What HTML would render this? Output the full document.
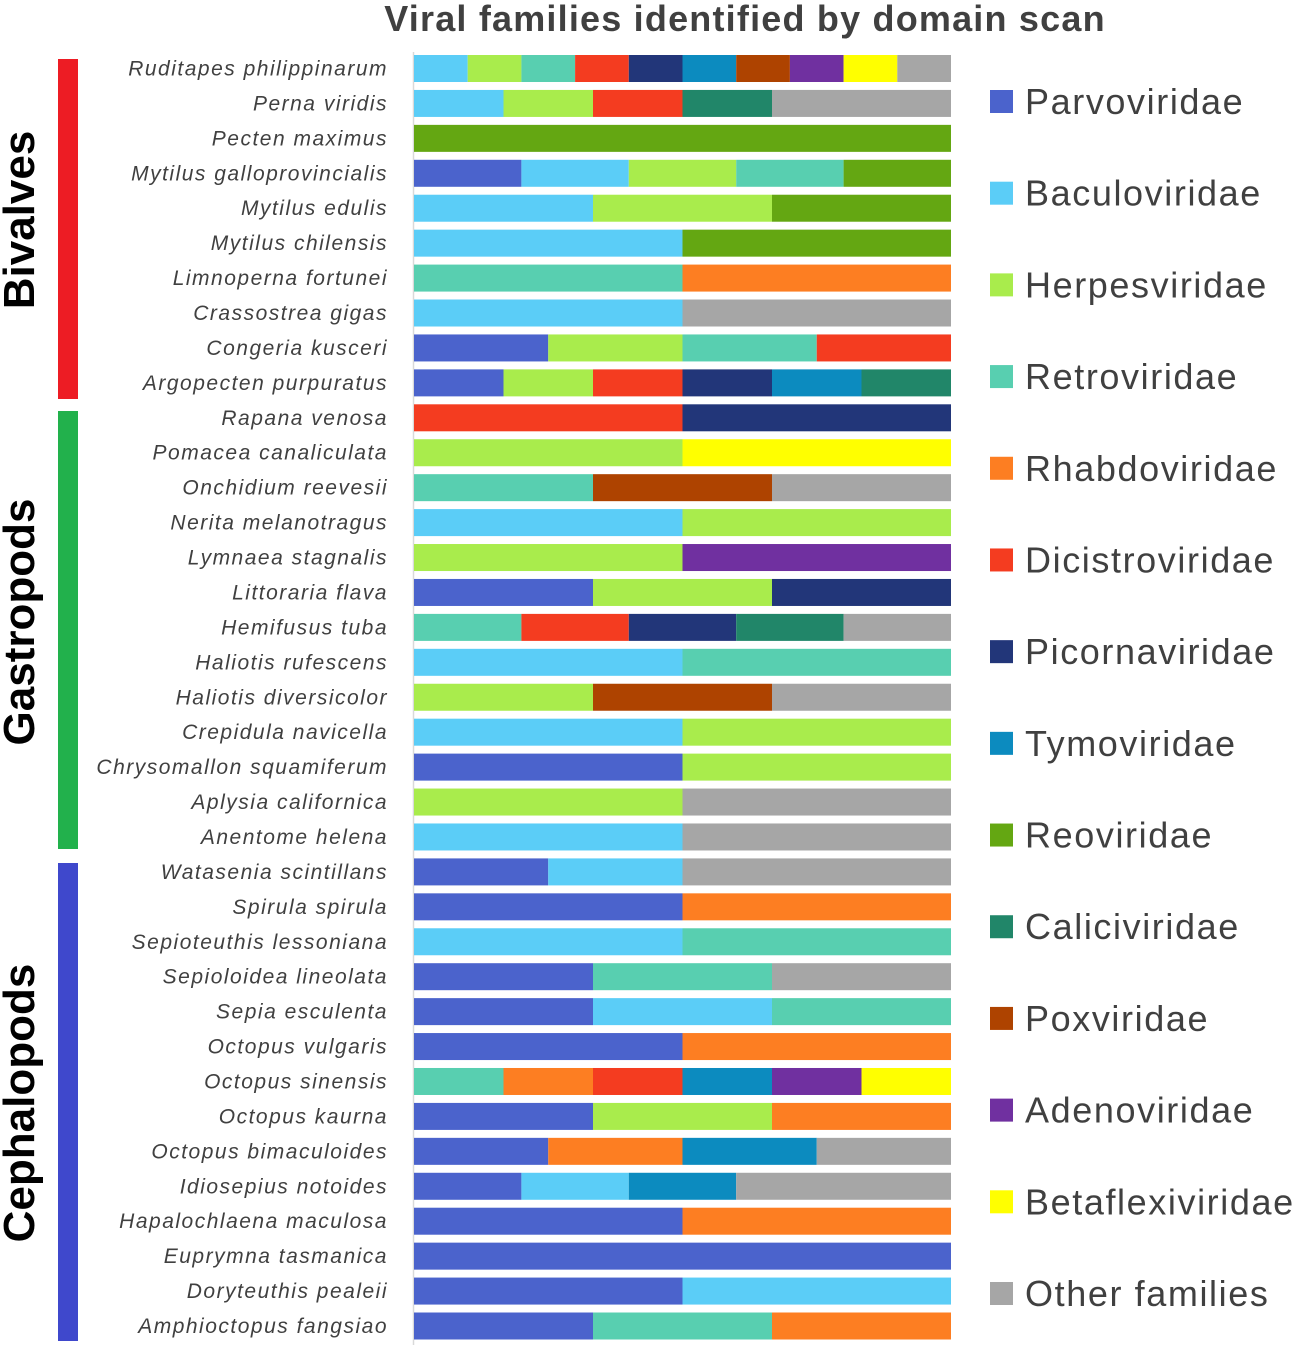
<!DOCTYPE html>
<html><head><meta charset="utf-8">
<style>
html,body{margin:0;padding:0;background:#fff;}
body{width:1299px;height:1345px;overflow:hidden;}
svg text{font-family:"Liberation Sans",sans-serif;}
</style></head>
<body>
<svg id="chart" width="1299" height="1345" xmlns="http://www.w3.org/2000/svg">
<text x="745" y="31" text-anchor="middle" font-size="36" font-weight="bold" fill="#404040" letter-spacing="1.2">Viral families identified by domain scan</text>
<line x1="413.5" y1="52" x2="413.5" y2="1345" stroke="#d9d9d9" stroke-width="1.5"/>
<rect x="58" y="59" width="20" height="340" fill="#ed1c24"/>
<rect x="58" y="411" width="20" height="438" fill="#22b14c"/>
<rect x="58" y="863" width="20" height="478" fill="#3f48cc"/>
<text transform="translate(34,220) rotate(-90)" text-anchor="middle" font-size="44" font-weight="bold" fill="#000">Bivalves</text>
<text transform="translate(34,622) rotate(-90)" text-anchor="middle" font-size="44" font-weight="bold" fill="#000">Gastropods</text>
<text transform="translate(34,1103) rotate(-90)" text-anchor="middle" font-size="44" font-weight="bold" fill="#000">Cephalopods</text>
<g id="bars"></g>
<g id="legend"></g>
</svg>
<script>
const families = ["Parvoviridae","Baculoviridae","Herpesviridae","Retroviridae","Rhabdoviridae","Dicistroviridae","Picornaviridae","Tymoviridae","Reoviridae","Caliciviridae","Poxviridae","Adenoviridae","Betaflexiviridae","Other families"];
const familyColors = ["#4b63cc","#5bcdf7","#a9ec4c","#58cfb0","#fd7e22","#f43c20","#223679","#0c8bbf","#64a712","#218669","#ae4300","#7030a0","#ffff00","#a6a6a6"];
const species = ["Ruditapes philippinarum","Perna viridis","Pecten maximus","Mytilus galloprovincialis","Mytilus edulis","Mytilus chilensis","Limnoperna fortunei","Crassostrea gigas","Congeria kusceri","Argopecten purpuratus","Rapana venosa","Pomacea canaliculata","Onchidium reevesii","Nerita melanotragus","Lymnaea stagnalis","Littoraria flava","Hemifusus tuba","Haliotis rufescens","Haliotis diversicolor","Crepidula navicella","Chrysomallon squamiferum","Aplysia californica","Anentome helena","Watasenia scintillans","Spirula spirula","Sepioteuthis lessoniana","Sepioloidea lineolata","Sepia esculenta","Octopus vulgaris","Octopus sinensis","Octopus kaurna","Octopus bimaculoides","Idiosepius notoides","Hapalochlaena maculosa","Euprymna tasmanica","Doryteuthis pealeii","Amphioctopus fangsiao"];
// family index per segment
const segFamilies = [[1,2,3,5,6,7,10,11,12,13],[1,2,5,9,13],[8],[0,1,2,3,8],[1,2,8],[1,8],[3,4],[1,13],[0,2,3,5],[0,2,5,6,7,9],[5,6],[2,12],[3,10,13],[1,2],[2,11],[0,2,6],[3,5,6,9,13],[1,3],[2,10,13],[1,2],[0,2],[2,13],[1,13],[0,1,13],[0,4],[1,3],[0,3,13],[0,1,3],[0,4],[3,4,5,7,11,12],[0,2,4],[0,4,7,13],[0,1,7,13],[0,4],[0],[0,1],[0,3,4]];
// count of domains per segment
const segCounts = [[1,1,1,1,1,1,1,1,1,1],[1,1,1,1,2],[1],[1,1,1,1,1],[1,1,1],[1,1],[1,1],[1,1],[1,1,1,1],[1,1,1,1,1,1],[1,1],[1,1],[1,1,1],[1,1],[1,1],[1,1,1],[1,1,1,1,1],[1,1],[1,1,1],[1,1],[1,1],[1,1],[1,1],[1,1,2],[1,1],[1,1],[1,1,1],[1,1,1],[1,1],[1,1,1,1,1,1],[1,1,1],[1,1,1,1],[1,1,1,2],[1,1],[1],[1,1],[1,1,1]];

const NS="http://www.w3.org/2000/svg";
const x0=414, x1=951;
const xScale = f => x0 + f*(x1-x0);
const yCenter = i => 68.5 + i*(1326-68.5)/(species.length-1);
const barH = 27;
const bars=document.getElementById('bars');
species.forEach((name,i)=>{
  const yc=yCenter(i);
  const t=document.createElementNS(NS,'text');
  
  
  t.setAttribute('x',388);t.setAttribute('y',yc+7);
  t.setAttribute('text-anchor','end');t.setAttribute('font-size','21');
  t.setAttribute('font-style','italic');t.setAttribute('fill','#404040');
  t.setAttribute('letter-spacing','1.5');
  t.textContent=name;bars.appendChild(t);
  const counts=segCounts[i];const total=counts.reduce((a,b)=>a+b,0);
  let cum=0;
  counts.forEach((c,j)=>{
    const r=document.createElementNS(NS,'rect');
    
    
    const xa=xScale(cum/total), xb=xScale((cum+c)/total);
    r.setAttribute('x',xa);r.setAttribute('y',yc-barH/2);
    r.setAttribute('width',xb-xa);r.setAttribute('height',barH);
    r.setAttribute('fill',familyColors[segFamilies[i][j]]);
    bars.appendChild(r);cum+=c;
  });
});
const legend=document.getElementById('legend');
families.forEach((f,k)=>{
  const yc=101+k*(1293-101)/(families.length-1);
  const r=document.createElementNS(NS,'rect');
  
  
  r.setAttribute('x',990);r.setAttribute('y',yc-11);r.setAttribute('width',23);r.setAttribute('height',23);
  r.setAttribute('fill',familyColors[k]);legend.appendChild(r);
  const t=document.createElementNS(NS,'text');
  
  
  t.setAttribute('x',1025);t.setAttribute('y',yc+13);t.setAttribute('font-size','36');t.setAttribute('fill','#404040');
  t.setAttribute('letter-spacing','1.6');
  t.textContent=f;legend.appendChild(t);
});
</script>
</body></html>
